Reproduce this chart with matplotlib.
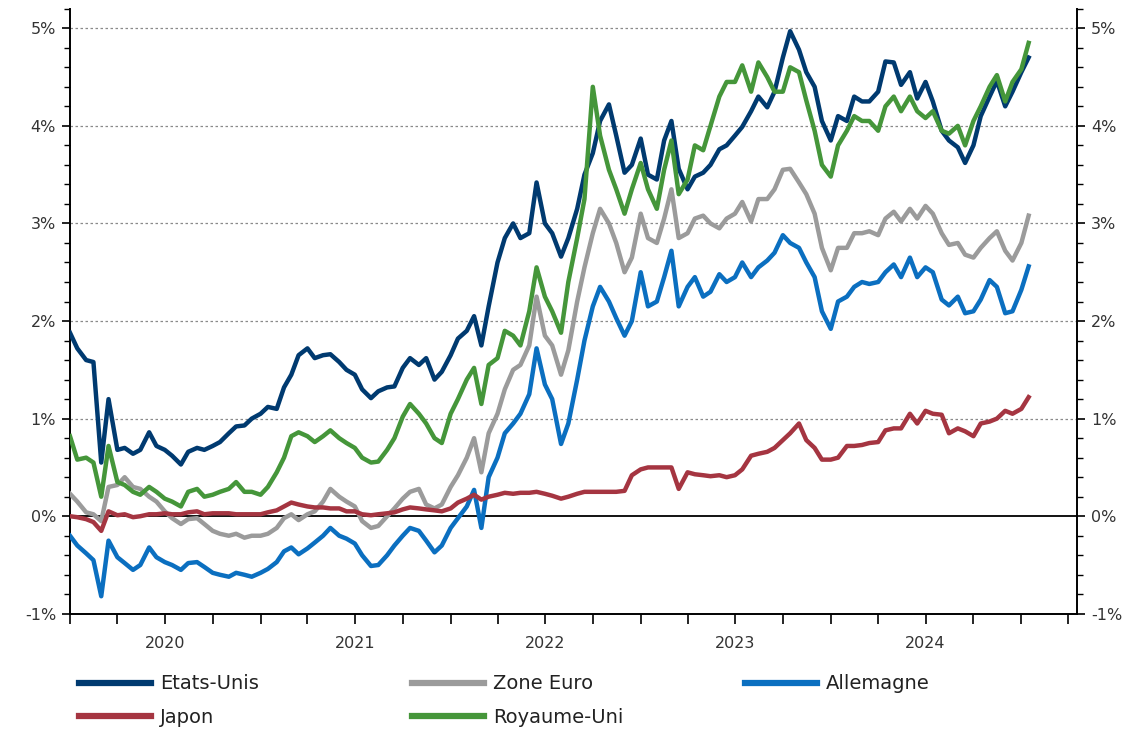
import matplotlib
matplotlib.use("Agg")
import matplotlib.pyplot as plt
from matplotlib.ticker import MultipleLocator, FuncFormatter
import pandas as pd

# dates: 1er et 15 de chaque mois, janv. 2020 -> janv. 2025
dates = pd.date_range("2020-01-01", "2025-01-15", freq="SMS")

# taux à 10 ans (%), une ligne par année
etats_unis = [
    1.88, 1.72, 1.60, 1.58, 0.55, 1.20, 0.68, 0.70, 0.64, 0.68, 0.86, 0.72, 0.68, 0.62, 0.53, 0.66, 0.70, 0.68, 0.72, 0.76, 0.85, 0.92, 0.93, 1.00,
    1.05, 1.12, 1.10, 1.32, 1.45, 1.65, 1.72, 1.62, 1.65, 1.66, 1.58, 1.50, 1.45, 1.30, 1.21, 1.28, 1.32, 1.33, 1.52, 1.62, 1.55, 1.62, 1.40, 1.48,
    1.65, 1.82, 1.90, 2.05, 1.75, 2.15, 2.60, 2.85, 3.00, 2.85, 2.90, 3.42, 3.00, 2.90, 2.66, 2.85, 3.15, 3.50, 3.72, 4.05, 4.22, 3.90, 3.52, 3.60,
    3.87, 3.50, 3.45, 3.85, 4.05, 3.56, 3.35, 3.48, 3.52, 3.60, 3.76, 3.80, 3.90, 3.99, 4.15, 4.30, 4.19, 4.35, 4.70, 4.97, 4.78, 4.55, 4.40, 4.05,
    3.85, 4.10, 4.05, 4.30, 4.25, 4.25, 4.35, 4.66, 4.65, 4.42, 4.55, 4.28, 4.45, 4.25, 3.95, 3.85, 3.78, 3.62, 3.80, 4.10, 4.30, 4.46, 4.20, 4.35,
    4.55, 4.70,
]
zone_euro = [
    0.23, 0.15, 0.04, 0.02, -0.05, 0.30, 0.32, 0.40, 0.30, 0.28, 0.20, 0.15, 0.05, -0.02, -0.08, -0.03, -0.02, -0.08, -0.15, -0.18, -0.20, -0.18, -0.22, -0.20,
    -0.20, -0.18, -0.12, -0.02, 0.02, -0.04, 0.02, 0.05, 0.15, 0.28, 0.20, 0.15, 0.10, -0.05, -0.12, -0.10, 0.00, 0.08, 0.18, 0.25, 0.28, 0.12, 0.08, 0.12,
    0.30, 0.42, 0.60, 0.80, 0.45, 0.85, 1.05, 1.30, 1.50, 1.55, 1.75, 2.25, 1.85, 1.75, 1.45, 1.70, 2.20, 2.55, 2.90, 3.15, 3.00, 2.80, 2.50, 2.65,
    3.10, 2.85, 2.80, 3.05, 3.35, 2.85, 2.90, 3.05, 3.08, 3.00, 2.95, 3.05, 3.10, 3.22, 3.02, 3.25, 3.25, 3.35, 3.55, 3.56, 3.42, 3.30, 3.10, 2.75,
    2.52, 2.75, 2.75, 2.90, 2.90, 2.92, 2.88, 3.05, 3.12, 3.02, 3.15, 3.05, 3.18, 3.10, 2.90, 2.78, 2.80, 2.68, 2.65, 2.75, 2.85, 2.92, 2.72, 2.62,
    2.80, 3.08,
]
allemagne = [
    -0.20, -0.30, -0.38, -0.45, -0.82, -0.25, -0.42, -0.48, -0.55, -0.50, -0.32, -0.42, -0.47, -0.50, -0.55, -0.48, -0.47, -0.52, -0.58, -0.60, -0.62, -0.58, -0.60, -0.62,
    -0.58, -0.54, -0.47, -0.36, -0.32, -0.39, -0.33, -0.27, -0.20, -0.12, -0.20, -0.23, -0.28, -0.40, -0.51, -0.50, -0.40, -0.30, -0.20, -0.12, -0.15, -0.25, -0.37, -0.30,
    -0.12, -0.02, 0.10, 0.27, -0.12, 0.40, 0.60, 0.85, 0.95, 1.05, 1.25, 1.72, 1.35, 1.20, 0.74, 0.95, 1.40, 1.80, 2.15, 2.35, 2.20, 2.03, 1.85, 2.00,
    2.50, 2.15, 2.20, 2.45, 2.72, 2.15, 2.35, 2.45, 2.25, 2.30, 2.48, 2.40, 2.45, 2.60, 2.45, 2.55, 2.62, 2.70, 2.88, 2.80, 2.75, 2.60, 2.45, 2.10,
    1.92, 2.20, 2.25, 2.35, 2.40, 2.38, 2.40, 2.50, 2.58, 2.45, 2.65, 2.45, 2.55, 2.50, 2.22, 2.16, 2.25, 2.08, 2.10, 2.22, 2.42, 2.35, 2.08, 2.10,
    2.32, 2.56,
]
japon = [
    0.00, -0.01, -0.03, -0.06, -0.15, 0.05, 0.01, 0.02, -0.01, 0.00, 0.02, 0.02, 0.03, 0.02, 0.02, 0.04, 0.05, 0.02, 0.03, 0.03, 0.03, 0.02, 0.02, 0.02,
    0.02, 0.04, 0.06, 0.10, 0.14, 0.12, 0.10, 0.09, 0.09, 0.08, 0.08, 0.05, 0.05, 0.02, 0.01, 0.02, 0.03, 0.04, 0.07, 0.09, 0.08, 0.07, 0.06, 0.05,
    0.08, 0.14, 0.18, 0.22, 0.17, 0.20, 0.22, 0.24, 0.23, 0.24, 0.24, 0.25, 0.23, 0.21, 0.18, 0.20, 0.23, 0.25, 0.25, 0.25, 0.25, 0.25, 0.26, 0.42,
    0.48, 0.50, 0.50, 0.50, 0.50, 0.28, 0.45, 0.43, 0.42, 0.41, 0.42, 0.40, 0.42, 0.48, 0.62, 0.64, 0.66, 0.70, 0.78, 0.85, 0.95, 0.78, 0.70, 0.58,
    0.58, 0.60, 0.72, 0.72, 0.73, 0.75, 0.76, 0.88, 0.90, 0.90, 1.05, 0.95, 1.08, 1.05, 1.04, 0.85, 0.90, 0.87, 0.82, 0.95, 0.97, 1.00, 1.08, 1.05,
    1.10, 1.22,
]
royaume_uni = [
    0.82, 0.58, 0.60, 0.55, 0.20, 0.72, 0.35, 0.32, 0.25, 0.22, 0.30, 0.25, 0.18, 0.15, 0.10, 0.25, 0.28, 0.20, 0.22, 0.25, 0.28, 0.35, 0.25, 0.25,
    0.22, 0.30, 0.45, 0.60, 0.82, 0.86, 0.82, 0.76, 0.82, 0.88, 0.80, 0.75, 0.70, 0.60, 0.55, 0.56, 0.68, 0.80, 1.02, 1.15, 1.05, 0.95, 0.80, 0.75,
    1.05, 1.20, 1.40, 1.52, 1.15, 1.55, 1.62, 1.90, 1.85, 1.75, 2.10, 2.55, 2.25, 2.10, 1.88, 2.40, 2.85, 3.25, 4.40, 3.90, 3.55, 3.35, 3.10, 3.35,
    3.62, 3.35, 3.15, 3.55, 3.85, 3.30, 3.45, 3.80, 3.75, 4.00, 4.30, 4.45, 4.45, 4.62, 4.35, 4.65, 4.50, 4.35, 4.35, 4.60, 4.55, 4.26, 3.95, 3.60,
    3.48, 3.80, 3.95, 4.10, 4.05, 4.05, 3.95, 4.20, 4.30, 4.15, 4.30, 4.15, 4.08, 4.15, 3.95, 3.92, 4.00, 3.80, 4.05, 4.20, 4.40, 4.52, 4.25, 4.45,
    4.58, 4.85,
]

series = [
    ("Etats-Unis", etats_unis, "#003A70"),
    ("Zone Euro", zone_euro, "#9B9B9B"),
    ("Allemagne", allemagne, "#0B6FC0"),
    ("Japon", japon, "#A53541"),
    ("Royaume-Uni", royaume_uni, "#45963A"),
]

fig = plt.figure(figsize=(11.29, 7.29), dpi=100)
ax = fig.add_axes([0.062, 0.158, 0.892, 0.830])

# grille pointillée et ligne du zéro
for v in range(1, 6):
    ax.axhline(v, color="#8a8a8a", lw=0.9, ls=(0, (2, 2)), zorder=1)
ax.axhline(0, color="black", lw=1.3, zorder=1)

handles = {}
for name, vals, col in series:
    (h,) = ax.plot(dates, vals, color=col, lw=3.2, label=name, zorder=3,
                   solid_joinstyle="round")
    handles[name] = h

# axe des dates
quarters = pd.date_range("2020-01-01", "2025-04-01", freq="QS")
ax.set_xlim(pd.Timestamp("2020-01-01"), pd.Timestamp("2025-04-18"))
ax.set_xticks(quarters)
ax.set_xticklabels([str(d.year) if d.month == 7 else "" for d in quarters])
ax.tick_params(axis="x", length=7, width=1.2, pad=9, labelsize=11.5,
               labelcolor="#333333")

pct = FuncFormatter(lambda v, pos: f"{v:.0f}%")
ax2 = ax.twinx()
for a in (ax, ax2):
    a.set_ylim(-1, 5.2)
    a.set_yticks(range(-1, 6))
    a.yaxis.set_minor_locator(MultipleLocator(0.2))
    a.yaxis.set_major_formatter(pct)
    a.tick_params(axis="y", which="major", length=6, width=1.2, labelsize=11.5,
                  labelcolor="#333333", pad=4)
    a.tick_params(axis="y", which="minor", length=4, width=1.0)
    a.spines["top"].set_visible(False)
    for s in ("left", "right", "bottom"):
        a.spines[s].set_linewidth(1.4)
ax.spines["right"].set_visible(False)
ax2.spines["left"].set_visible(False)
ax2.spines["bottom"].set_visible(False)

# légende en trois colonnes sous le graphique
leg_kw = dict(loc="upper left", frameon=False, fontsize=14, handlelength=3.7,
              handletextpad=0.45, labelspacing=0.75, borderpad=0,
              borderaxespad=0)
groups = [(["Etats-Unis", "Japon"], 0.070),
          (["Zone Euro", "Royaume-Uni"], 0.365),
          (["Allemagne"], 0.660)]
for names, x0 in groups:
    lg = fig.legend(handles=[handles[n] for n in names], labels=names,
                    bbox_to_anchor=(x0, 0.075), **leg_kw)
    for line in lg.get_lines():
        line.set_linewidth(4.5)
    for t in lg.get_texts():
        t.set_color("#222222")

fig.savefig("out.png", dpi=100)
